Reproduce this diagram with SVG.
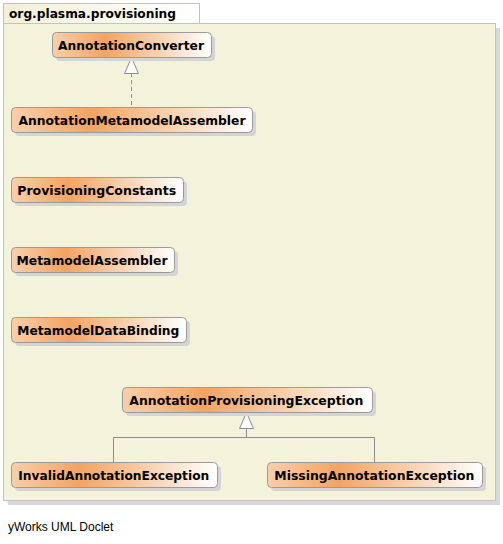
<svg xmlns="http://www.w3.org/2000/svg" width="503" height="544" viewBox="0 0 503 544">
<defs>
<linearGradient id="ng" x1="0" y1="0" x2="1" y2="0">
<stop offset="0" stop-color="#f8cfac"/>
<stop offset="0.33" stop-color="#f2a462"/>
<stop offset="1" stop-color="#ffffff"/>
</linearGradient>
<linearGradient id="tg" x1="0" y1="0" x2="1" y2="0">
<stop offset="0" stop-color="#f3efd9"/>
<stop offset="1" stop-color="#ffffff"/>
</linearGradient>
</defs>
<style>
.sh{fill:#d4d4d4}
.box{fill:url(#ng);stroke:#9a9a9a;stroke-width:1}
.lbl{font-family:"DejaVu Sans","Liberation Sans",Arial,sans-serif;font-weight:bold;font-size:12.5px;fill:#000;text-anchor:middle}
.edge{fill:none;stroke:#8c8c8c;stroke-width:1}
.tri{fill:#fff;stroke:#8c8c8c;stroke-width:1}
</style>
<g id="package">
<rect x="8" y="28" width="492" height="477" fill="#d8d8d8"/>
<rect x="3.5" y="23.5" width="492" height="477" fill="#f3f3db" stroke="#c2c2cc"/>
<rect x="3.5" y="3.5" width="196" height="20" fill="url(#tg)" stroke="#c2c2cc"/>
<text x="9" y="18" font-family="DejaVu Sans,Liberation Sans,Arial,sans-serif" font-weight="bold" font-size="12.5" fill="#000" textLength="167" lengthAdjust="spacingAndGlyphs">org.plasma.provisioning</text>
</g>
<g id="connectors">
<line class="edge" x1="131.5" y1="73" x2="131.5" y2="107" stroke-dasharray="4,3"/>
<polygon class="tri" points="131.5,57.5 124.5,73.5 138.5,73.5"/>
<polyline class="edge" points="113.5,462 113.5,437.5 374.5,437.5 374.5,462"/>
<line class="edge" x1="246.5" y1="428" x2="246.5" y2="437.5"/>
<polygon class="tri" points="246.5,412.5 239.5,428.5 253.5,428.5"/>
</g>
<g id="AnnotationConverter">
<rect class="sh" x="56" y="36" width="159" height="25" rx="4"/>
<rect class="box" x="52.5" y="32.5" width="159" height="25" rx="4"/>
<text class="lbl" x="131" y="49.5" textLength="146" lengthAdjust="spacingAndGlyphs">AnnotationConverter</text>
</g>
<g id="AnnotationMetamodelAssembler">
<rect class="sh" x="15" y="111" width="241" height="25" rx="4"/>
<rect class="box" x="11.5" y="107.5" width="241" height="25" rx="4"/>
<text class="lbl" x="132" y="124.5" textLength="227" lengthAdjust="spacingAndGlyphs">AnnotationMetamodelAssembler</text>
</g>
<g id="ProvisioningConstants">
<rect class="sh" x="15" y="181" width="172" height="25" rx="4"/>
<rect class="box" x="11.5" y="177.5" width="172" height="25" rx="4"/>
<text class="lbl" x="96.7" y="194.5" textLength="159" lengthAdjust="spacingAndGlyphs">ProvisioningConstants</text>
</g>
<g id="MetamodelAssembler">
<rect class="sh" x="15" y="251" width="163" height="25" rx="4"/>
<rect class="box" x="11.5" y="247.5" width="163" height="25" rx="4"/>
<text class="lbl" x="92" y="264.5" textLength="151" lengthAdjust="spacingAndGlyphs">MetamodelAssembler</text>
</g>
<g id="MetamodelDataBinding">
<rect class="sh" x="15" y="321" width="175" height="25" rx="4"/>
<rect class="box" x="11.5" y="317.5" width="175" height="25" rx="4"/>
<text class="lbl" x="98.3" y="334.5" textLength="162" lengthAdjust="spacingAndGlyphs">MetamodelDataBinding</text>
</g>
<g id="AnnotationProvisioningException">
<rect class="sh" x="126" y="391" width="250" height="25" rx="4"/>
<rect class="box" x="122.5" y="387.5" width="250" height="25" rx="4"/>
<text class="lbl" x="246.3" y="404.5" textLength="234" lengthAdjust="spacingAndGlyphs">AnnotationProvisioningException</text>
</g>
<g id="InvalidAnnotationException">
<rect class="sh" x="15" y="466" width="206" height="25" rx="4"/>
<rect class="box" x="11.5" y="462.5" width="206" height="25" rx="4"/>
<text class="lbl" x="113.8" y="480" textLength="191" lengthAdjust="spacingAndGlyphs">InvalidAnnotationException</text>
</g>
<g id="MissingAnnotationException">
<rect class="sh" x="271" y="466" width="215" height="25" rx="4"/>
<rect class="box" x="267.5" y="462.5" width="215" height="25" rx="4"/>
<text class="lbl" x="374.3" y="480" textLength="200" lengthAdjust="spacingAndGlyphs">MissingAnnotationException</text>
</g>
<text x="8" y="531" font-family="Liberation Sans,Arial,sans-serif" font-size="12" fill="#000">yWorks UML Doclet</text>
</svg>
